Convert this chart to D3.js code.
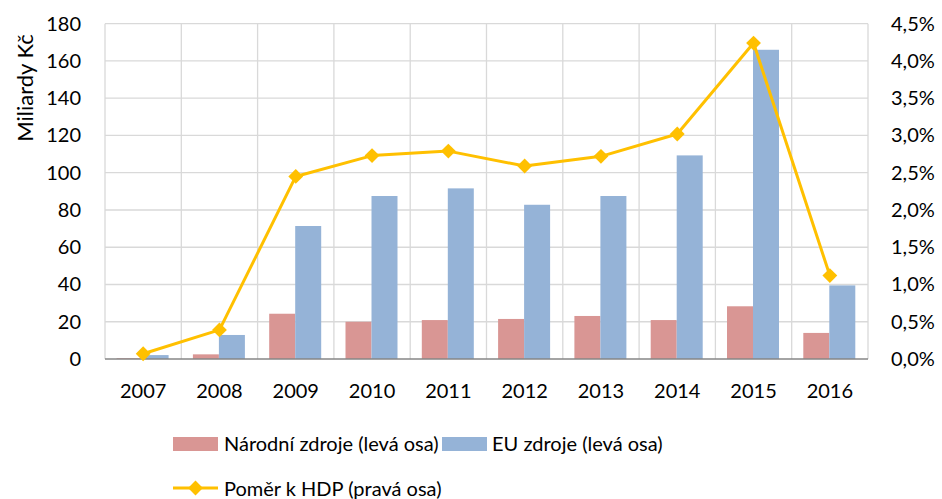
<!DOCTYPE html>
<html>
<head>
<meta charset="utf-8">
<script src="https://cdn.jsdelivr.net/npm/d3@7"></script>
<style>
  body { margin: 0; background: #fff; }
  text { font-family: Lato, "Open Sans", sans-serif; fill: #000; }
</style>
</head>
<body>
<div id="chart"></div>
<script>
// data
var years = [ '2007', '2008', '2009', '2010', '2011', '2012', '2013', '2014', '2015', '2016' ];
var narodni = [ 0.4, 2.5, 24.3, 20, 20.9, 21.5, 23.1, 20.9, 28.3, 14 ];
var eu = [ 2.1, 12.9, 71.4, 87.5, 91.6, 82.8, 87.5, 109.3, 166, 39.5 ];
var pomer = [ 0.07, 0.39, 2.45, 2.73, 2.79, 2.59, 2.72, 3.02, 4.24, 1.12 ];
var leftTicks = [ 0, 20, 40, 60, 80, 100, 120, 140, 160, 180 ];
var rightTicks = [ 0, 0.5, 1, 1.5, 2, 2.5, 3, 3.5, 4, 4.5 ];

var width = 942, height = 499;
var plot = { left: 105, right: 868, top: 23.7, bottom: 359 };

var redColor = '#d99694';
var blueColor = '#95b3d7';
var lineColor = '#ffc000';
var gridColor = '#d9d9d9';

var svg = d3.select( '#chart' ).append( 'svg' )
  .attr( 'width', width )
  .attr( 'height', height );

var x = d3.scaleBand().domain( years ).range( [ plot.left, plot.right ] );
var yL = d3.scaleLinear().domain( [ 0, 180 ] ).range( [ plot.bottom, plot.top ] );
var yR = d3.scaleLinear().domain( [ 0, 4.5 ] ).range( [ plot.bottom, plot.top ] );

var barW = 26;
var barOff = 11.6;

// grid
svg.append( 'g' ).selectAll( 'line.h' )
  .data( leftTicks.slice( 1 ) )
  .enter().append( 'line' )
  .attr( 'x1', plot.left ).attr( 'x2', plot.right )
  .attr( 'y1', function( d ) { return yL( d ); } )
  .attr( 'y2', function( d ) { return yL( d ); } )
  .attr( 'stroke', gridColor ).attr( 'stroke-width', 1.3 );

var vx = years.map( function( d ) { return x( d ); } ).concat( [ plot.right ] );
svg.append( 'g' ).selectAll( 'line.v' )
  .data( vx )
  .enter().append( 'line' )
  .attr( 'x1', function( d ) { return d; } ).attr( 'x2', function( d ) { return d; } )
  .attr( 'y1', plot.top ).attr( 'y2', plot.bottom )
  .attr( 'stroke', gridColor ).attr( 'stroke-width', 1.3 );

// bars
svg.append( 'g' ).selectAll( 'rect' )
  .data( narodni )
  .enter().append( 'rect' )
  .attr( 'x', function( d, i ) { return x( years[ i ] ) + barOff; } )
  .attr( 'y', function( d ) { return yL( d ); } )
  .attr( 'width', barW )
  .attr( 'height', function( d ) { return plot.bottom - yL( d ); } )
  .attr( 'fill', redColor );

svg.append( 'g' ).selectAll( 'rect' )
  .data( eu )
  .enter().append( 'rect' )
  .attr( 'x', function( d, i ) { return x( years[ i ] ) + barOff + barW; } )
  .attr( 'y', function( d ) { return yL( d ); } )
  .attr( 'width', barW )
  .attr( 'height', function( d ) { return plot.bottom - yL( d ); } )
  .attr( 'fill', blueColor );

// bottom axis line
svg.append( 'line' )
  .attr( 'x1', plot.left ).attr( 'x2', plot.right )
  .attr( 'y1', plot.bottom ).attr( 'y2', plot.bottom )
  .attr( 'stroke', '#868686' ).attr( 'stroke-width', 1.5 );

// line series
var line = d3.line()
  .x( function( d, i ) { return x( years[ i ] ) + x.bandwidth() / 2; } )
  .y( function( d ) { return yR( d ); } );

svg.append( 'path' )
  .datum( pomer )
  .attr( 'd', line )
  .attr( 'fill', 'none' )
  .attr( 'stroke', lineColor )
  .attr( 'stroke-width', 3 )
  .attr( 'stroke-linejoin', 'round' );

var diamond = d3.symbol().type( d3.symbolDiamond2 ).size( 140 );
svg.append( 'g' ).selectAll( 'path' )
  .data( pomer )
  .enter().append( 'path' )
  .attr( 'd', diamond )
  .attr( 'transform', function( d, i ) {
    return 'translate(' + ( x( years[ i ] ) + x.bandwidth() / 2 ) + ',' + yR( d ) + ')';
  } )
  .attr( 'fill', lineColor );

// axes labels
svg.append( 'g' ).selectAll( 'text' )
  .data( leftTicks )
  .enter().append( 'text' )
  .attr( 'x', 81 )
  .attr( 'y', function( d ) { return yL( d ) + 7; } )
  .attr( 'text-anchor', 'end' )
  .attr( 'font-size', '20px' )
  .text( function( d ) { return d; } );

var fmt = function( d ) { return d.toFixed( 1 ).replace( '.', ',' ) + '%'; };
svg.append( 'g' ).selectAll( 'text' )
  .data( rightTicks )
  .enter().append( 'text' )
  .attr( 'x', 891 )
  .attr( 'y', function( d ) { return yR( d ) + 7; } )
  .attr( 'font-size', '20px' )
  .text( fmt );

svg.append( 'g' ).selectAll( 'text' )
  .data( years )
  .enter().append( 'text' )
  .attr( 'x', function( d ) { return x( d ) + x.bandwidth() / 2; } )
  .attr( 'y', 398 )
  .attr( 'text-anchor', 'middle' )
  .attr( 'font-size', '20px' )
  .text( function( d ) { return d; } );

svg.append( 'text' )
  .attr( 'transform', 'translate(33,88) rotate(-90)' )
  .attr( 'text-anchor', 'middle' )
  .attr( 'font-size', '22px' )
  .text( 'Miliardy Kč' );

// legend
var lg = svg.append( 'g' );
lg.append( 'rect' ).attr( 'x', 173 ).attr( 'y', 437 ).attr( 'width', 45 ).attr( 'height', 14 ).attr( 'fill', redColor );
lg.append( 'text' ).attr( 'x', 224 ).attr( 'y', 451 ).attr( 'font-size', '20px' ).text( 'Národní zdroje (levá osa)' );
lg.append( 'rect' ).attr( 'x', 442 ).attr( 'y', 437 ).attr( 'width', 45 ).attr( 'height', 14 ).attr( 'fill', blueColor );
lg.append( 'text' ).attr( 'x', 492 ).attr( 'y', 451 ).attr( 'font-size', '20px' ).text( 'EU zdroje (levá osa)' );
lg.append( 'line' ).attr( 'x1', 173 ).attr( 'x2', 218 ).attr( 'y1', 488 ).attr( 'y2', 488 )
  .attr( 'stroke', lineColor ).attr( 'stroke-width', 3 );
lg.append( 'path' ).attr( 'd', diamond ).attr( 'transform', 'translate(195.5,488)' ).attr( 'fill', lineColor );
lg.append( 'text' ).attr( 'x', 224 ).attr( 'y', 496 ).attr( 'font-size', '20px' ).text( 'Poměr k HDP (pravá osa)' );
</script>
</body>
</html>
